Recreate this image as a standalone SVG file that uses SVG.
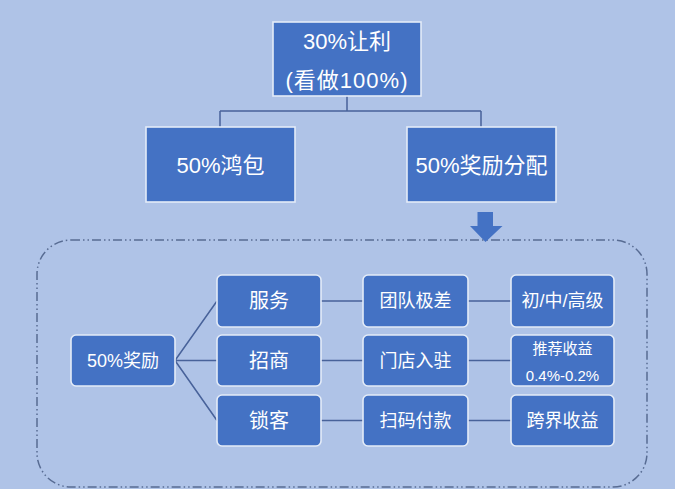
<svg xmlns="http://www.w3.org/2000/svg" width="675" height="489" viewBox="0 0 675 489">
<style>
.bg{fill:#afc3e7}
.box{fill:#4472c4;stroke:#e4ecf8;stroke-width:1.6}
.t{fill:#ffffff;font-family:"Liberation Sans","Noto Sans CJK SC",sans-serif;text-anchor:middle;dominant-baseline:central}
.big{font-size:22px}
.lg{font-size:20px}
.mid{font-size:18px}
.sm{font-size:15px}
.ln{fill:none;stroke:#48629a;stroke-width:1.5}
.dash{fill:none;stroke:#586c93;stroke-width:1.5;stroke-dasharray:9 3 1.5 3 1.5 3}
.arrow{fill:#4472c4}
</style>
<rect class="bg" x="0" y="0" width="675" height="489"/>
<rect class="dash" x="37" y="240" width="610" height="247" rx="34" ry="34"/>
<g id="connectors">
<path class="ln" d="M347 96 V111 M220 111 H481 M220 111 V127 M481 111 V127"/>
<path class="ln" d="M175 360.5 L217 301 M175 360.5 H217 M175 360.5 L217 420.5"/>
<path class="ln" d="M321 301 H363 M321 360.5 H363 M321 420.5 H363"/>
<path class="ln" d="M468 301 H511 M468 360.5 H511 M468 420.5 H511"/>
</g>
<g id="arrow">
<path class="arrow" d="M477.5 212 H493 V226 H502.5 L485.5 242 L470 226 H477.5 Z"/>
</g>
<g id="n-top">
<rect class="box" x="273" y="22" width="148" height="74"/>
<text class="t big" x="347" y="41">30%让利</text>
<text class="t big" x="347" y="80" letter-spacing="1">(看做100%)</text>
</g>
<g id="n-hongbao">
<rect class="box" x="146" y="127" width="149" height="75"/>
<text class="t big" x="220.5" y="165">50%鸿包</text>
</g>
<g id="n-jiangli-fenpei">
<rect class="box" x="407" y="127" width="149" height="75"/>
<text class="t big" x="481.5" y="165">50%奖励分配</text>
</g>
<g id="n-jiangli">
<rect class="box" x="71" y="335" width="104" height="51" rx="5"/>
<text class="t mid" x="123" y="360.5">50%奖励</text>
</g>
<g id="n-fuwu">
<rect class="box" x="217" y="275" width="104" height="52" rx="5"/>
<text class="t lg" x="269" y="301">服务</text>
</g>
<g id="n-zhaoshang">
<rect class="box" x="217" y="335" width="104" height="51" rx="5"/>
<text class="t lg" x="269" y="360.5">招商</text>
</g>
<g id="n-suoke">
<rect class="box" x="217" y="395" width="104" height="51" rx="5"/>
<text class="t lg" x="269" y="420.5">锁客</text>
</g>
<g id="n-tuandui">
<rect class="box" x="363" y="275" width="105" height="52" rx="5"/>
<text class="t mid" x="415.5" y="301">团队极差</text>
</g>
<g id="n-mendian">
<rect class="box" x="363" y="335" width="105" height="51" rx="5"/>
<text class="t mid" x="415.5" y="360.5">门店入驻</text>
</g>
<g id="n-saoma">
<rect class="box" x="363" y="395" width="105" height="51" rx="5"/>
<text class="t mid" x="415.5" y="420.5">扫码付款</text>
</g>
<g id="n-jibie">
<rect class="box" x="511" y="275" width="103" height="52" rx="5"/>
<text class="t mid" x="562.5" y="301">初/中/高级</text>
</g>
<g id="n-tuijian">
<rect class="box" x="511" y="335" width="103" height="51" rx="5"/>
<text class="t sm" x="562.5" y="348">推荐收益</text>
<text class="t sm" x="562.5" y="375">0.4%-0.2%</text>
</g>
<g id="n-kuajie">
<rect class="box" x="511" y="395" width="103" height="51" rx="5"/>
<text class="t mid" x="562.5" y="420.5">跨界收益</text>
</g>
</svg>
